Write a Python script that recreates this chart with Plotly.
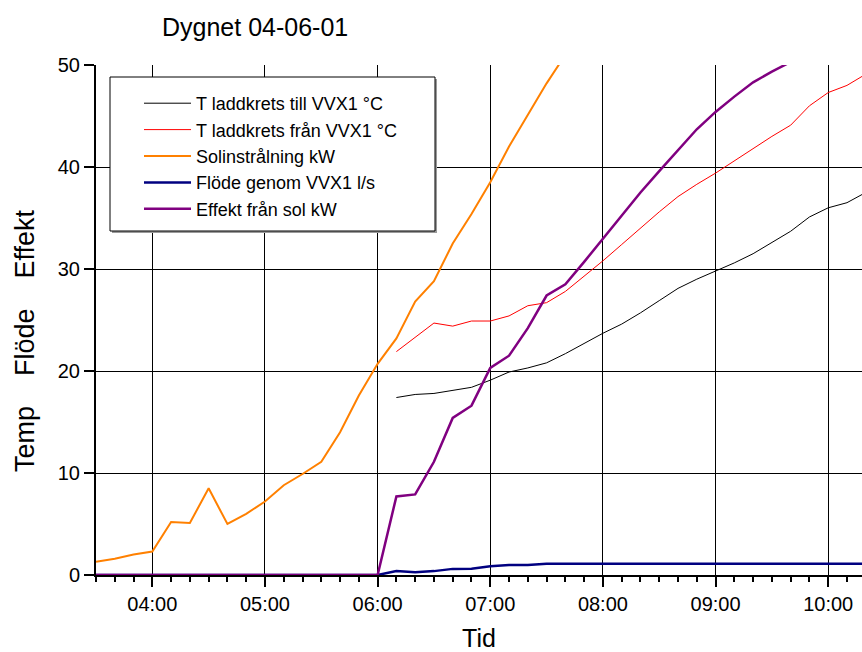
import plotly.graph_objects as go

# ---- data ----
times = ["03:30", "03:40", "03:50", "04:00", "04:10", "04:20", "04:30", "04:40", "04:50",
         "05:00", "05:10", "05:20", "05:30", "05:40", "05:50", "06:00", "06:10", "06:20",
         "06:30", "06:40", "06:50", "07:00", "07:10", "07:20", "07:30", "07:40", "07:50",
         "08:00", "08:10", "08:20", "08:30", "08:40", "08:50", "09:00", "09:10", "09:20",
         "09:30", "09:40", "09:50", "10:00", "10:10", "10:20"]
date = "2004-06-01"
x = [f"{date} {t}" for t in times]

N = None
t_till = [N] * 16 + [17.4, 17.7, 17.8, 18.1, 18.4, 19.1, 19.9, 20.3, 20.8, 21.7, 22.7,
                     23.7, 24.6, 25.7, 26.9, 28.1, 29.0, 29.8, 30.6, 31.5, 32.6, 33.7,
                     35.1, 36.0, 36.5, 37.5]
t_fran = [N] * 16 + [21.9, 23.3, 24.7, 24.4, 24.9, 24.9, 25.4, 26.4, 26.7, 27.8, 29.3,
                     30.8, 32.4, 34.0, 35.6, 37.1, 38.3, 39.4, 40.6, 41.8, 43.0, 44.1,
                     46.0, 47.3, 48.0, 49.1]
sol = [1.3, 1.6, 2.0, 2.3, 5.2, 5.1, 8.5, 5.0, 6.0, 7.2, 8.8, 9.9, 11.1, 14.0, 17.6, 20.7,
       23.2, 26.8, 28.8, 32.5, 35.4, 38.5, 42.0, 45.1, 48.2, 51.0] + [N] * 16
flode = [0.0] * 16 + [0.39, 0.27, 0.38, 0.6, 0.62, 0.85, 0.97, 0.98] + [1.1] * 18
effekt = [0.0] * 16 + [7.7, 7.9, 11.1, 15.4, 16.6, 20.3, 21.5, 24.2, 27.4, 28.5, 30.7,
                       33.0, 35.3, 37.5, 39.6, 41.7, 43.7, 45.4, 46.9, 48.3, 49.35, 50.3] + [N] * 4

names = ["T laddkrets till VVX1 °C", "T laddkrets från VVX1 °C", "Solinstrålning kW",
         "Flöde genom VVX1 l/s", "Effekt från sol kW"]
series = [t_till, t_fran, sol, flode, effekt]
colors = ["#000000", "#FF0000", "#FF8000", "#000080", "#800080"]
widths = [1, 1, 2, 2.5, 2.5]

y_ticks = [0, 10, 20, 30, 40, 50]

FONT = "Liberation Sans, Arial, sans-serif"

fig = go.Figure()
for nm, s, c, w in zip(names, series, colors, widths):
    fig.add_trace(go.Scatter(x=x, y=s, mode="lines", name=nm,
                             line=dict(color=c, width=w), connectgaps=False))

W, H = 862, 652
L, R, T, B = 96, 0, 65, 77
pw, ph = W - L - R, H - T - B

def px_x(p):
    return (p - L) / pw

def px_y(p):
    return (H - B - p) / ph

fig.update_layout(
    width=W, height=H,
    margin=dict(l=L, r=R, t=T, b=B),
    paper_bgcolor="white", plot_bgcolor="white",
    font=dict(family=FONT, color="black", size=20),
    showlegend=True,
    legend=dict(x=px_x(139), y=px_y(85), xanchor="left", yanchor="top",
                bgcolor="rgba(0,0,0,0)", borderwidth=0,
                font=dict(size=18, family=FONT, color="black"),
                itemwidth=47, traceorder="normal"),
    title=dict(text="Dygnet 04-06-01", x=162 / W, xanchor="left", xref="container",
               y=1 - 27 / H, yanchor="middle", yref="container",
               font=dict(size=25, family=FONT, color="black")),
)

fig.update_xaxes(
    type="date",
    range=[f"{date} 03:30", f"{date} 10:18"],
    tickmode="linear", tick0=f"{date} 00:00", dtick=3600000, tickformat="%H:%M",
    ticks="outside", ticklen=10, tickwidth=2, tickcolor="black",
    showgrid=True, gridcolor="black", gridwidth=1,
    showline=True, linecolor="black", linewidth=2,
    tickfont=dict(size=20, family=FONT, color="black"),
    minor=dict(tickmode="linear", tick0=f"{date} 00:00", dtick=600000,
               ticks="outside", ticklen=5, tickwidth=2, tickcolor="black"),
    title=dict(text="Tid", font=dict(size=25, family=FONT, color="black"), standoff=18),
)
fig.update_yaxes(
    range=[0, 50],
    tickvals=y_ticks,
    ticks="outside", ticklen=10, tickwidth=2, tickcolor="black",
    showgrid=True, gridcolor="black", gridwidth=1,
    showline=True, linecolor="black", linewidth=2,
    zeroline=False,
    tickfont=dict(size=20, family=FONT, color="black"),
)

# legend frame (with light shadow)
fig.add_shape(type="rect", xref="paper", yref="paper",
              x0=px_x(112), x1=px_x(437), y0=px_y(233), y1=px_y(79),
              line=dict(width=0), fillcolor="#9a9a9a", layer="above")
fig.add_shape(type="rect", xref="paper", yref="paper",
              x0=px_x(110), x1=px_x(435), y0=px_y(231), y1=px_y(77),
              line=dict(width=1, color="black"), fillcolor="white", layer="above")

# y-axis title
fig.add_annotation(text="Temp\u00a0\u00a0\u00a0\u00a0Flöde\u00a0\u00a0\u00a0\u00a0Effekt",
                   xref="paper", yref="paper", x=px_x(25), y=px_y(341),
                   xanchor="center", yanchor="middle", textangle=-90, showarrow=False,
                   font=dict(size=27, family=FONT, color="black"))

fig.write_html("out.html")
